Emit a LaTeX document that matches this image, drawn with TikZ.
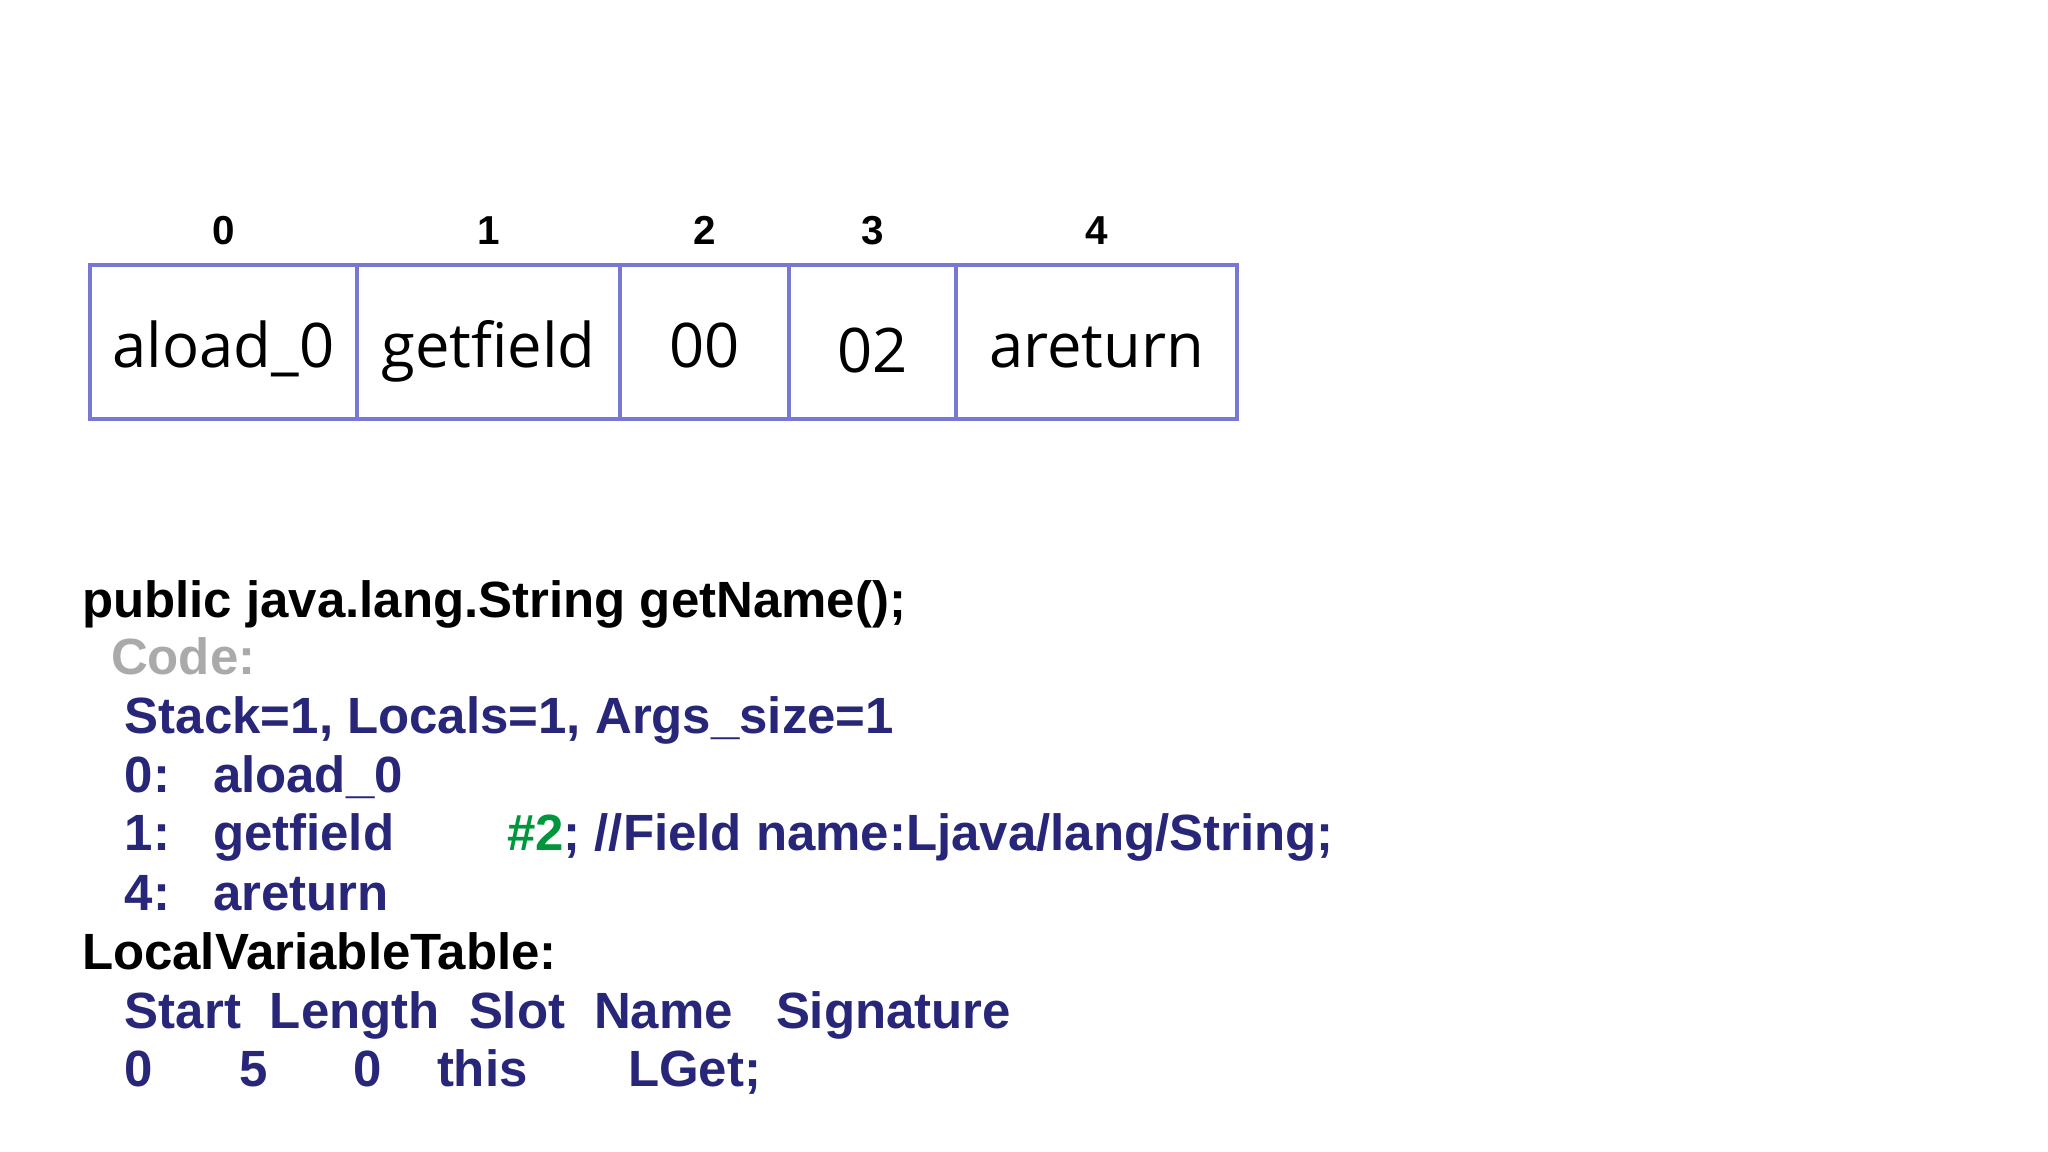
\documentclass[tikz,border=0pt]{standalone}
\usepackage{fontspec}
\setmainfont{Liberation Sans}
\newfontfamily\cellfont{Open Sans}
\newcommand*{\codefont}{\bfseries\fontsize{14.5}{17}\selectfont}
\newcommand*{\indexfont}{\bfseries\fontsize{11.5}{14}\selectfont}
\definecolor{frame}{RGB}{120,120,212}
\definecolor{navy}{RGB}{40,38,120}
\definecolor{ref}{RGB}{0,150,60}
\definecolor{grey}{RGB}{170,170,170}
\usetikzlibrary{positioning}
\tikzstyle{base}=[inner sep=0pt, outer sep=0pt]
\tikzstyle{cell}=[draw=frame, line width=1.3pt, minimum height=1.54cm, text height=0.62cm, text depth=0.10cm, font=\cellfont\fontsize{17.5}{20}\selectfont]
\tikzstyle{index}=[font=\indexfont]
\tikzstyle{code}=[anchor=base west, font=\codefont, navy]

\begin{document}
\begin{tikzpicture}[base]
    \path [use as bounding box] (0,0) rectangle (20.48,-11.52);
        \node [cell, minimum width=2.67cm, anchor=west] (cell0) at (0.90,-3.42) {aload\_0};
        \node [cell, minimum width=2.63cm, right=0pt of cell0] (cell1) {getfield};
        \node [cell, minimum width=1.69cm, right=0pt of cell1] (cell2) {00};
        \node [cell, minimum width=1.67cm, right=0pt of cell2] (cell3) {\raisebox{-0.05cm}{02}};
        \node [cell, minimum width=2.81cm, right=0pt of cell3] (cell4) {areturn};
        \node [index, above=0.2cm of cell0] (idx0) {0};
        \node [index, above=0.2cm of cell1] (idx1) {1};
        \node [index, above=0.2cm of cell2] (idx2) {2};
        \node [index, above=0.2cm of cell3] (idx3) {3};
        \node [index, above=0.2cm of cell4] (idx4) {4};
        \node [code, black] (sig) at (0.82,-6.18) {public java.lang.String getName();};
        \node [code, grey] (codehdr) at (1.11,-6.75) {Code:};
        \node [code] (limits) at (1.25,-7.34) {Stack=1, Locals=1, Args\_size=1};
        \node [code] (pc0) at (1.25,-7.93) {0:};
        \node [code] (op0) at (2.13,-7.93) {aload\_0};
        \node [code] (pc1) at (1.25,-8.51) {1:};
        \node [code] (op1) at (2.13,-8.51) {getfield};
        \node [code] (arg1) at (5.07,-8.51) {{\color{ref}\#2}; //Field name:Ljava/lang/String;};
        \node [code] (pc4) at (1.25,-9.10) {4:};
        \node [code] (op4) at (2.13,-9.10) {areturn};
        \node [code, black] (lvt) at (0.82,-9.69) {LocalVariableTable:};
        \node [code] (hstart) at (1.25,-10.28) {Start};
        \node [code] (hlength) at (2.70,-10.28) {Length};
        \node [code] (hslot) at (4.69,-10.28) {Slot};
        \node [code] (hname) at (5.94,-10.28) {Name};
        \node [code] (hsig) at (7.76,-10.28) {Signature};
        \node [code] (vstart) at (1.25,-10.86) {0};
        \node [code] (vlength) at (2.39,-10.86) {5};
        \node [code] (vslot) at (3.53,-10.86) {0};
        \node [code] (vname) at (4.37,-10.86) {this};
        \node [code] (vsig) at (6.28,-10.86) {LGet;};
\end{tikzpicture}
\end{document}
